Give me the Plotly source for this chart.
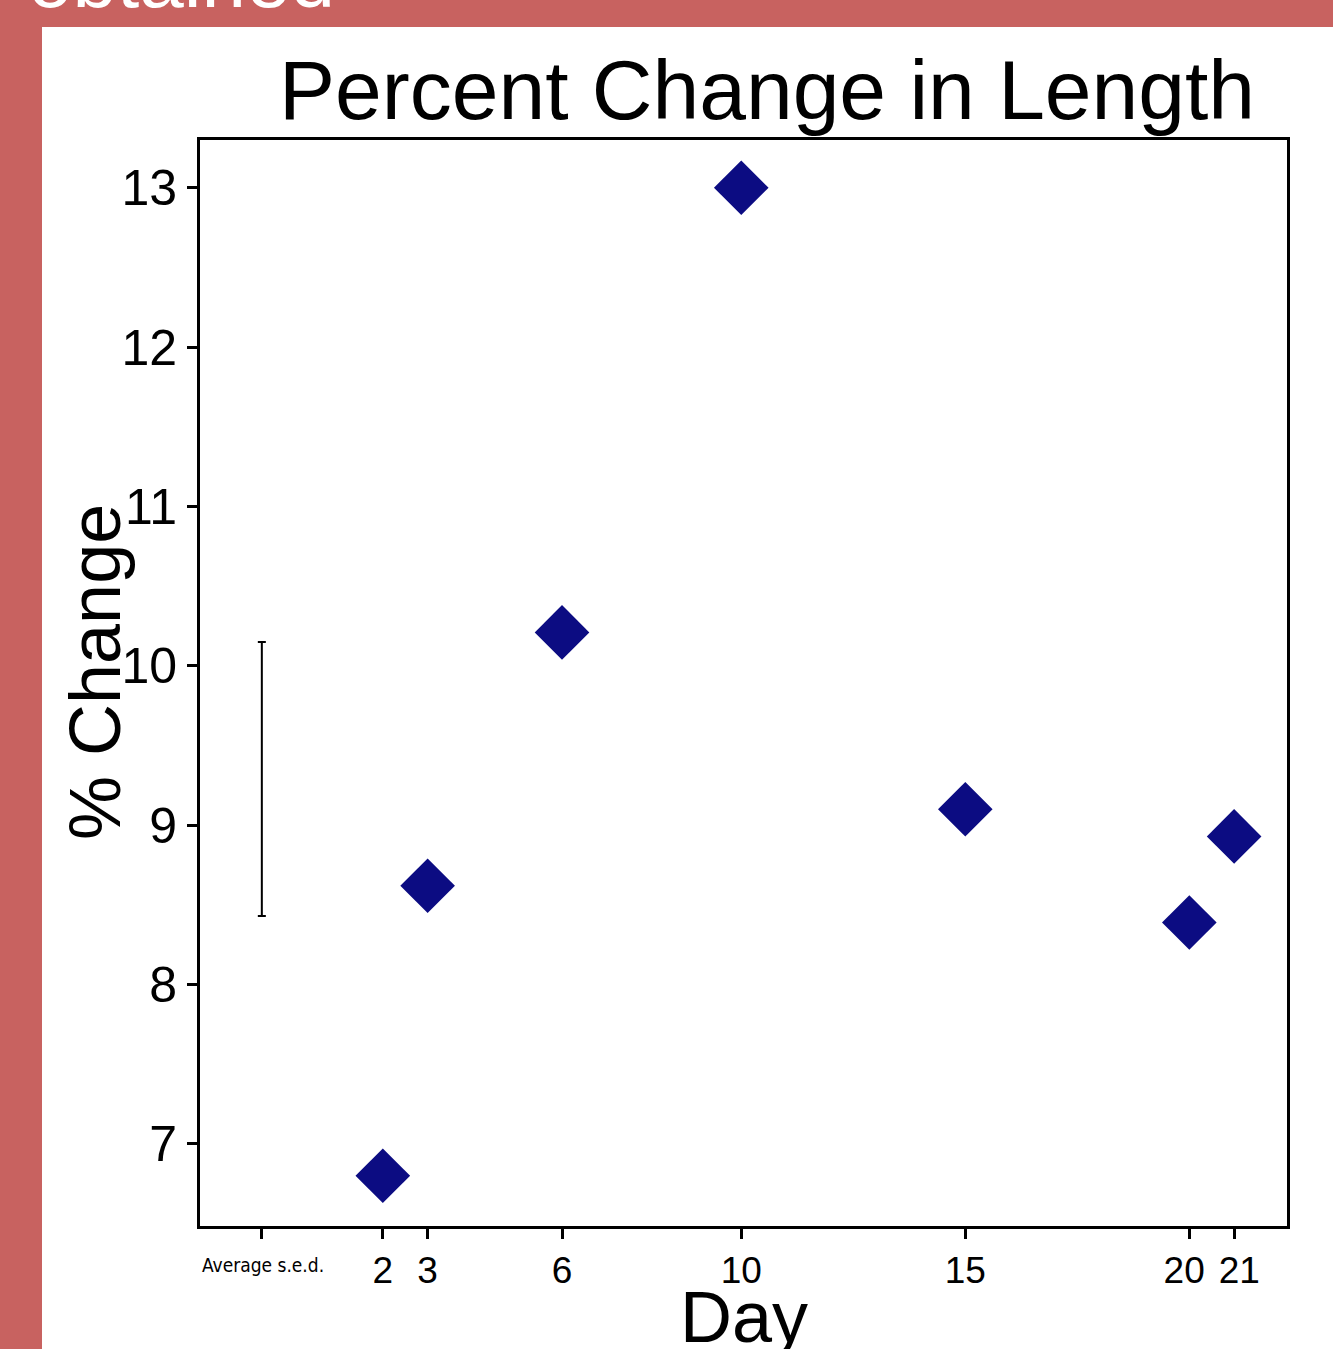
import plotly.graph_objects as go

# ---- data ----
days = [2, 3, 6, 10, 15, 20, 21]
pct_change = [6.80, 8.62, 10.21, 13.00, 9.10, 8.39, 8.93]
sed_x = [-0.7]
sed_center = [9.29]
sed_half = [0.86]
x_tick_vals = [-0.7, 2, 3, 6, 10, 15, 20, 21]
x_tick_text = ["", "2", "3", "6", "10", "15", "20\u00a0", "\u00a021"]
y_tick_vals = [7, 8, 9, 10, 11, 12, 13]

W, H = 1333, 1349
L, R, T, B = 200, 1287, 140, 1226   # plot-area pixel box
pw, ph = R - L, B - T

def px(x):
    return (x - L) / pw

def py(y):
    return (B - y) / ph

FONT = "Arial, Liberation Sans, sans-serif"
BG = "#C86260"

fig = go.Figure()
fig.add_trace(go.Scatter(
    x=days, y=pct_change, mode="markers",
    marker=dict(symbol="diamond", size=42, color="#0C0C82"),
    showlegend=False, cliponaxis=False))
fig.add_trace(go.Scatter(
    x=sed_x, y=sed_center, mode="markers",
    marker=dict(size=0.1, color="rgba(0,0,0,0)"),
    error_y=dict(type="data", array=sed_half, color="black", thickness=2, width=4),
    showlegend=False))

fig.update_layout(
    width=W, height=H,
    margin=dict(l=L, r=W - R, t=T, b=H - B),
    paper_bgcolor=BG, plot_bgcolor="white",
    font=dict(family=FONT, color="black"),
    shapes=[dict(type="rect", xref="paper", yref="paper",
                 x0=px(42), x1=px(W + 5), y0=py(H + 5), y1=py(27),
                 fillcolor="white", line=dict(width=0), layer="below")],
    annotations=[
        dict(text="Percent Change in Length", xref="paper", yref="paper",
             x=px(767), y=py(90), xanchor="center", yanchor="middle",
             showarrow=False, font=dict(size=84, color="black", family=FONT)),
        dict(text="% Change", xref="paper", yref="paper",
             x=px(95), y=py(672), xanchor="center", yanchor="middle", textangle=-90,
             showarrow=False, font=dict(size=72, color="black", family=FONT)),
        dict(text="Day", xref="paper", yref="paper",
             x=px(744), y=py(1317), xanchor="center", yanchor="middle",
             showarrow=False, font=dict(size=72, color="black", family=FONT)),
        dict(text="Average s.e.d.", xref="paper", yref="paper",
             x=px(263), y=py(1265), xanchor="center", yanchor="middle",
             showarrow=False,
             font=dict(size=19, color="black", family="DejaVu Sans Condensed, DejaVu Sans")),
        dict(text="obtained", xref="paper", yref="paper",
             x=px(26), y=py(-20), xanchor="left", yanchor="middle",
             showarrow=False, font=dict(size=80, color="white", family=FONT)),
    ],
)
fig.update_xaxes(
    range=[-2.08, 22.18], tickmode="array", tickvals=x_tick_vals, ticktext=x_tick_text,
    tickangle=0,
    showgrid=False, zeroline=False, showline=True, linecolor="black", linewidth=3,
    mirror=True, ticks="outside", ticklen=10, tickwidth=3, tickcolor="black",
    tickfont=dict(size=37, family=FONT, color="black"))
fig.update_yaxes(
    range=[6.485, 13.30], tickmode="array", tickvals=y_tick_vals,
    showgrid=False, zeroline=False, showline=True, linecolor="black", linewidth=3,
    mirror=True, ticks="outside", ticklen=10, tickwidth=3, tickcolor="black",
    tickfont=dict(size=50, family=FONT, color="black"))

fig.write_html("out.html")
